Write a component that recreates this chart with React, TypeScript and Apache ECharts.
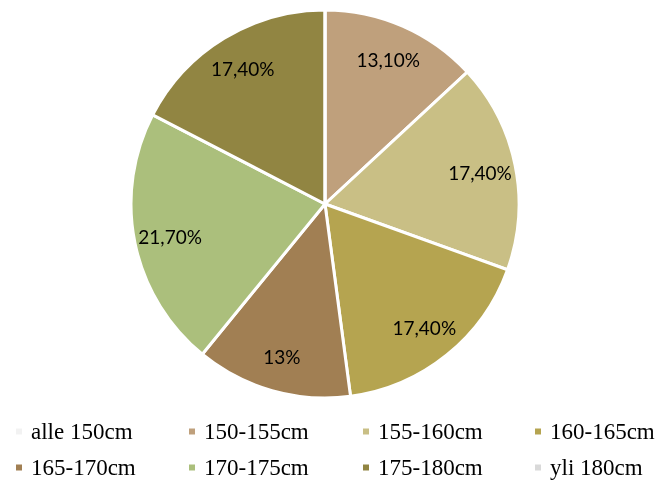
import React, { useEffect, useRef } from "react";
import * as echarts from "echarts";

const categories = [
  "alle 150cm",
  "150-155cm",
  "155-160cm",
  "160-165cm",
  "165-170cm",
  "170-175cm",
  "175-180cm",
  "yli 180cm",
];
const values = [0, 13.1, 17.4, 17.4, 13, 21.7, 17.4, 0];
const colors = [
  "#F2F2F2",
  "#BFA07C",
  "#C9BF85",
  "#B5A450",
  "#A17F53",
  "#ABBF7C",
  "#918542",
  "#D9D9D9",
];

const fmt = (v: number) =>
  Number.isInteger(v) ? `${v}%` : `${v.toFixed(2).replace(".", ",")}%`;

export default function App() {
  const ref = useRef<HTMLDivElement>(null);
  useEffect(() => {
    if (!ref.current) return;
    const chart = echarts.init(ref.current, undefined, { renderer: "svg" });
    const R = 194;
    const center = [325, 204];
    const legendX = [14, 187, 361, 533];
    const legendY = [420, 456];
    const legends = categories.map((name, i) => ({
      data: [{ name, itemStyle: { color: colors[i] } }],
      left: legendX[i % 4],
      top: legendY[Math.floor(i / 4)],
      padding: 0,
      icon: "rect",
      itemWidth: 8,
      itemHeight: 8,
      itemGap: 0,
      selectedMode: false,
      textStyle: {
        fontFamily: "Liberation Serif",
        fontSize: 23,
        color: "#000",
        padding: [0, 0, 0, 3],
      },
    }));
    chart.setOption({
      animation: false,
      legend: legends,
      series: [
        {
          type: "pie",
          center,
          radius: [0, R],
          startAngle: 90,
          clockwise: true,
          avoidLabelOverlap: false,
          label: { show: false },
          labelLine: { show: false },
          itemStyle: { borderColor: "#fff", borderWidth: 3 },
          emphasis: { disabled: true },
          data: categories.map((name, i) => ({
            name,
            value: values[i],
            itemStyle: { color: colors[i] },
          })),
        },
        {
          type: "pie",
          center,
          radius: [R * 0.6, R],
          startAngle: 90,
          clockwise: true,
          silent: true,
          avoidLabelOverlap: false,
          itemStyle: { color: "rgba(0,0,0,0)", borderWidth: 0 },
          labelLine: { show: false },
          emphasis: { disabled: true },
          label: {
            show: true,
            position: "inside",
            fontFamily: "Lato",
            fontSize: 19,
            color: "#000",
            formatter: (p: any) => (p.value > 0 ? fmt(p.value) : ""),
          },
          data: categories.map((name, i) => ({
            name,
            value: values[i],
          })),
        },
      ],
    });
    return () => chart.dispose();
  }, []);
  return (
    <div
      ref={ref}
      style={{ position: "fixed", left: 0, top: 0, width: 658, height: 484 }}
    />
  );
}
